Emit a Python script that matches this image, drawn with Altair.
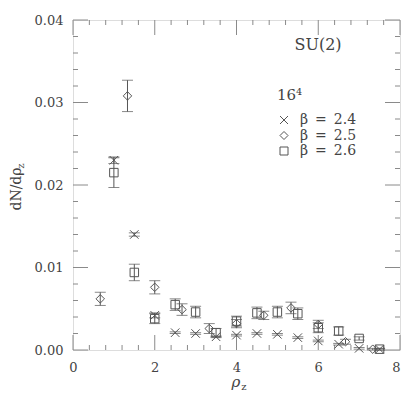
import altair as alt
import pandas as pd

# ---- data ----
series_labels = ["β\u2002=\u20022.4", "β\u2002=\u20022.5", "β\u2002=\u20022.6"]

x24 = [1.0, 1.5, 2.0, 2.5, 3.0, 3.5, 4.0, 4.5, 5.0, 5.5, 6.0, 6.5, 7.0, 7.5]
y24 = [0.0230, 0.0140, 0.0042, 0.0021, 0.0020, 0.0016, 0.0018, 0.0020, 0.0019, 0.0015, 0.0011, 0.0007, 0.0002, 0.0001]
e24 = [0.0004, 0.0002, 0.0003, 0.0001, 0.0001, 0.0001, 0.0001, 0.0001, 0.0001, 0.0001, 0.0001, 0.0001, 0.0001, 0.0001]

x25 = [0.667, 1.333, 2.0, 2.667, 3.333, 4.0, 4.667, 5.333, 6.0, 6.667, 7.333]
y25 = [0.0062, 0.0308, 0.0076, 0.0049, 0.0026, 0.0032, 0.0042, 0.0051, 0.0031, 0.0010, 0.0001]
e25 = [0.0008, 0.0019, 0.0008, 0.0007, 0.0006, 0.0005, 0.0005, 0.0007, 0.0005, 0.0003, 0.0001]

x26 = [1.0, 1.5, 2.0, 2.5, 3.0, 3.5, 4.0, 4.5, 5.0, 5.5, 6.0, 6.5, 7.0, 7.5]
y26 = [0.0215, 0.0094, 0.0038, 0.0055, 0.0046, 0.0021, 0.0035, 0.0045, 0.0046, 0.0044, 0.0027, 0.0023, 0.0014, 0.0001]
e26 = [0.0018, 0.0010, 0.0006, 0.0007, 0.0007, 0.0005, 0.0006, 0.0007, 0.0007, 0.0007, 0.0006, 0.0005, 0.0002, 0.0001]

x_major = [0, 2, 4, 6, 8]
x_minor = [0.4, 0.8, 1.2, 1.6, 2.4, 2.8, 3.2, 3.6, 4.4, 4.8, 5.2, 5.6, 6.4, 6.8, 7.2, 7.6]
y_major = [0.0, 0.01, 0.02, 0.03, 0.04]
y_minor = [0.002, 0.004, 0.006, 0.008, 0.012, 0.014, 0.016, 0.018, 0.022, 0.024,
           0.026, 0.028, 0.032, 0.034, 0.036, 0.038]

title_text = "SU(2)"
legend_title = "16\u2074"
x_title = ["ρ", "z"]
y_title = ["dN/dρ", "z"]

rows = []
for lab, xs_, ys_, es_ in zip(series_labels, [x24, x25, x26], [y24, y25, y26], [e24, e25, e26]):
    for a, b, c in zip(xs_, ys_, es_):
        rows.append({"series": lab, "x": a, "y": b, "e": c})
df = pd.DataFrame(rows)

W = 327
H = 330
FONT = "DejaVu Serif"
MARK = "#555555"
TXT = "#444444"
FRAME = "#8a8a8a"

xs = alt.Scale(domain=[0, 8], nice=False, zero=False)
ys = alt.Scale(domain=[0, 0.04], nice=False, zero=False)
xaxis = alt.Axis(values=x_major, format="d", title=None, ticks=False, domain=False, grid=False,
                 labelPadding=11, labelFontSize=13, labelFont=FONT, labelColor=TXT,
                 labelAlign={"condition": {"test": "datum.value == 8", "value": "right"},
                             "value": "center"},
                 labelBound=False)
yaxis = alt.Axis(values=y_major, format=".2f", title=None, ticks=False, domain=False, grid=False,
                 labelPadding=10, labelFontSize=13, labelFont=FONT, labelColor=TXT)


def X(field):
    return alt.X(field, type="quantitative", scale=xs, axis=xaxis)


def Y(field):
    return alt.Y(field, type="quantitative", scale=ys, axis=yaxis)


cross_path = "M-1,-1L1,1M-1,1L1,-1"
shape_scale = alt.Scale(domain=series_labels, range=[cross_path, "diamond", "square"])

base = alt.Chart(df).transform_calculate(lo="datum.y - datum.e", hi="datum.y + datum.e")

bars = base.mark_rule(color=MARK, strokeWidth=1).encode(x=X("x"), y=Y("lo"), y2="hi:Q")
cap_lo = base.mark_tick(color=MARK, orient="horizontal", size=11, thickness=1).encode(x=X("x"), y=Y("lo"))
cap_hi = base.mark_tick(color=MARK, orient="horizontal", size=11, thickness=1).encode(x=X("x"), y=Y("hi"))

points = base.mark_point(filled=False, color=MARK, strokeWidth=1, size=72, opacity=1).encode(
    x=X("x"), y=Y("y"),
    shape=alt.Shape("series:N", scale=shape_scale,
                    legend=alt.Legend(title=legend_title, orient="none", legendX=204, legendY=68,
                                      titleFont=FONT, titleFontSize=15, titleFontWeight="normal",
                                      titleColor=TXT, titlePadding=10, labelFont=FONT,
                                      labelFontSize=14, labelColor=TXT, labelOffset=9,
                                      rowPadding=1.5, symbolSize=64, symbolStrokeColor=MARK,
                                      symbolStrokeWidth=1, symbolFillColor="transparent",
                                      padding=0)),
)

# inward ticks on all four sides
xmaj = pd.DataFrame({"t": x_major})
xmin = pd.DataFrame({"t": x_minor})
ymaj = pd.DataFrame({"t": y_major})
ymin = pd.DataFrame({"t": y_minor})
MAJ, MIN = 15, 5
tick_layers = []
for d, L in [(xmaj, MAJ), (xmin, MIN)]:
    tick_layers.append(alt.Chart(d).mark_rule(color=FRAME, strokeWidth=1).encode(
        x=X("t"), y=alt.value(H), y2=alt.value(H - L)))
    tick_layers.append(alt.Chart(d).mark_rule(color=FRAME, strokeWidth=1).encode(
        x=X("t"), y=alt.value(0), y2=alt.value(L)))
for d, L in [(ymaj, MAJ), (ymin, MIN)]:
    tick_layers.append(alt.Chart(d).mark_rule(color=FRAME, strokeWidth=1).encode(
        y=Y("t"), x=alt.value(0), x2=alt.value(L)))
    tick_layers.append(alt.Chart(d).mark_rule(color=FRAME, strokeWidth=1).encode(
        y=Y("t"), x=alt.value(W), x2=alt.value(W - L)))

tdf = pd.DataFrame({"t": [title_text]})
title_mark = alt.Chart(tdf).mark_text(font=FONT, fontSize=16, color=TXT).encode(
    text="t:N", x=alt.value(245), y=alt.value(25))

xt_df = pd.DataFrame({"t": [x_title[0]]})
xs_df = pd.DataFrame({"t": [x_title[1]]})
xtitle = alt.Chart(xt_df).mark_text(font=FONT, fontSize=15, fontStyle="italic", color=TXT).encode(
    text="t:N", x=alt.value(163), y=alt.value(362))
xsub = alt.Chart(xs_df).mark_text(font=FONT, fontSize=10, color=TXT).encode(
    text="t:N", x=alt.value(171), y=alt.value(367))

yt_df = pd.DataFrame({"t": [y_title[0]]})
ys_df = pd.DataFrame({"t": [y_title[1]]})
ytitle = alt.Chart(yt_df).mark_text(font=FONT, fontSize=14, angle=270, color=TXT).encode(
    text="t:N", x=alt.value(-56), y=alt.value(169))
ysub = alt.Chart(ys_df).mark_text(font=FONT, fontSize=10, angle=270, color=TXT).encode(
    text="t:N", x=alt.value(-52), y=alt.value(146))

chart = alt.layer(
    *tick_layers, bars, cap_lo, cap_hi, points, title_mark, xtitle, xsub, ytitle, ysub
).properties(
    width=W, height=H,
    autosize=alt.AutoSizeParams(type="none"),
    padding={"left": 65, "top": 12, "right": 1, "bottom": 46},
).configure_view(stroke=FRAME, strokeWidth=1).configure(background="white")

chart.save("out.html", embed_options={"renderer": "svg", "actions": False})
